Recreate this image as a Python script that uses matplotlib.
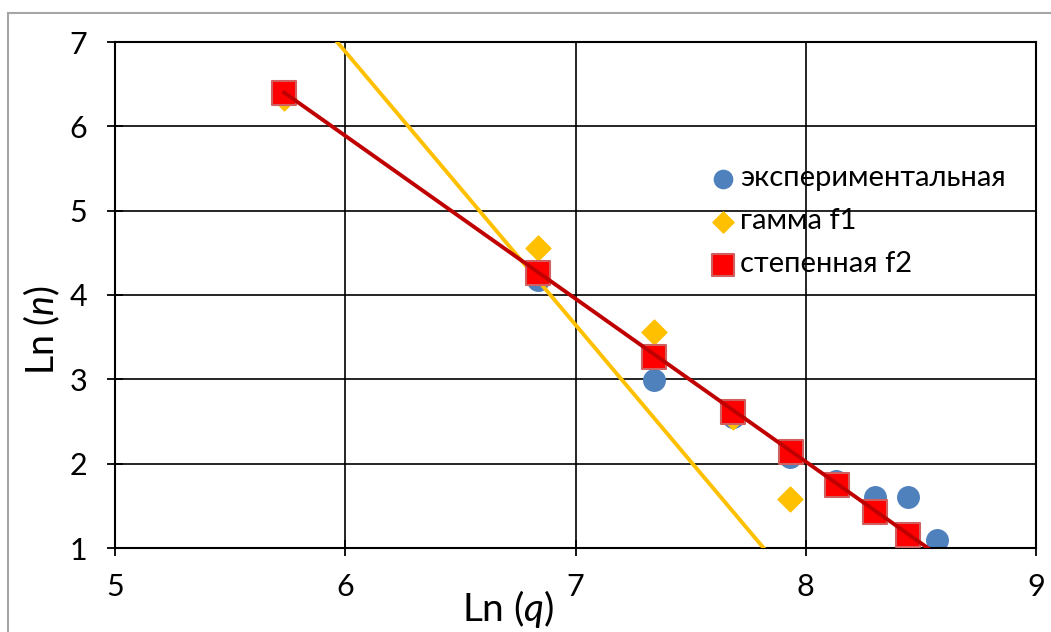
import matplotlib.pyplot as plt
from matplotlib.lines import Line2D

plt.rcParams['font.family'] = ['Lato', 'DejaVu Sans']
plt.rcParams['mathtext.fontset'] = 'custom'
plt.rcParams['mathtext.it'] = 'Lato:italic'
plt.rcParams['mathtext.rm'] = 'Lato'

# ln q values
x_pts = [5.735, 6.835, 7.343, 7.683, 7.93, 8.13, 8.30, 8.443, 8.57]
# experimental
y_exp = [6.40, 4.18, 2.99, 2.55, 2.08, 1.80, 1.605, 1.605, 1.095]
# gamma f1 points
x_gam = [5.735, 6.835, 7.343, 7.683, 7.93]
y_gam = [6.34, 4.557, 3.561, 2.55, 1.58]
# power f2 points
x_pow = [5.735, 6.835, 7.343, 7.683, 7.935, 8.135, 8.30, 8.443]
y_pow = [6.40, 4.26, 3.265, 2.61, 2.14, 1.747, 1.43, 1.154]

# straight lines
x_line_gam = [5.965, 7.817]
y_line_gam = [7.0, 1.0]
x_line_pow = [5.735, 8.53]
y_line_pow = [6.40, 1.0]

fig = plt.figure(figsize=(10.51, 6.32), dpi=100)
ax = fig.add_axes([115 / 1051, 1 - 548 / 632, (1036 - 115) / 1051, (548 - 42) / 632])

ax.plot(x_line_gam, y_line_gam, color='#ffc000', lw=2.8, zorder=3)
ax.plot(x_line_pow, y_line_pow, color='#c00000', lw=2.8, zorder=5)

ax.scatter(x_pts, y_exp, marker='o', s=240, color='#4f81bd', zorder=2,
           label='экспериментальная')
ax.scatter(x_gam, y_gam, marker='D', s=160, color='#ffc000', zorder=3,
           label='гамма f1')
ax.scatter(x_pow, y_pow, marker='s', s=320, color='#ff0000',
           edgecolor='#d06060', linewidth=1.5, zorder=4, label='степенная f2')

ax.set_xlim(5, 9)
ax.set_ylim(1, 7)
ax.set_xticks([5, 6, 7, 8, 9])
ax.set_yticks([1, 2, 3, 4, 5, 6, 7])
ax.grid(True, color='black', lw=1.2)
ax.set_axisbelow(True)
for s in ax.spines.values():
    s.set_color('black')
    s.set_linewidth(1.5)
ax.tick_params(direction='inout', length=12, width=1.3, labelsize=22)
ax.tick_params(axis='x', pad=12)
ax.tick_params(axis='y', pad=14)

ax.set_xlabel('Ln ($\\it{q}$)', fontsize=28)
ax.xaxis.set_label_coords(0.427, -0.08)
ax.set_ylabel('Ln ($\\it{n}$)', fontsize=27)
ax.yaxis.set_label_coords(-0.058, 0.43)

ax.legend(loc='upper left', bbox_to_anchor=(0.628, 0.785), frameon=False,
          fontsize=21, handletextpad=0.1, handlelength=1.0, labelspacing=0.58,
          borderpad=0, markerscale=0.85)

fig.add_artist(Line2D([8 / 1051, 8 / 1051], [0, 1 - 13 / 632], color='#a6a6a6', lw=1.5))
fig.add_artist(Line2D([8 / 1051, 1], [1 - 13 / 632, 1 - 13 / 632], color='#a6a6a6', lw=1.5))

fig.savefig('out.png', dpi=100)
